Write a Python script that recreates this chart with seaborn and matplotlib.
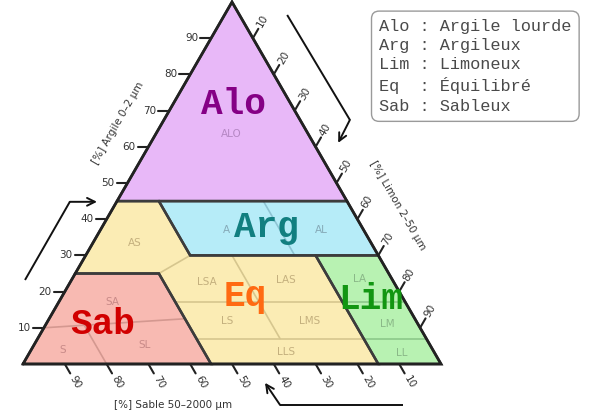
import numpy as np
import pandas as pd
import matplotlib.pyplot as plt
import seaborn as sns

# class polygons, as (sand %, clay %) pairs ; silt = 100 - sand - clay
alo_poly = [(55, 45), (0, 45), (0, 100)]
arg_poly = [(45, 45), (0, 45), (0, 30), (45, 30)]
eq_poly = [(55, 45), (45, 45), (45, 30), (15, 30), (15, 0), (55, 0), (55, 25), (75, 25)]
lim_poly = [(15, 30), (0, 30), (0, 0), (15, 0)]
sab_poly = [(75, 25), (55, 25), (55, 0), (100, 0)]

# thin sub-class boundaries
arg_lines = [[(20, 45), (20, 30)]]
eq_lines = [[(45, 30), (55, 25)], [(55, 17), (15, 17)], [(55, 7), (15, 7)], [(35, 30), (35, 7)]]
lim_lines = [[(15, 17), (0, 17)], [(15, 7), (0, 7)]]
sab_lines = [[(90, 10), (55, 12.5)], [(80, 10.7), (80, 0)]]

# labels (name, sand, clay)
class_names = ['Alo', 'Arg', 'Eq', 'Lim', 'Sab']
class_pos = [(13.7, 71.7), (23, 37.7), (37.5, 18.6), (7.9, 17.8), (75.5, 10.8)]
sub_labels = ['ALO', 'A', 'AL', 'AS', 'LSA', 'LAS', 'LS', 'LMS', 'LLS', 'LA', 'LM', 'LL', 'SA', 'S', 'SL']
sub_pos = [(18.4, 63.4), (32.7, 37.1), (10, 37.1), (56.5, 33.5), (44.7, 22.7), (25.4, 23.3),
           (45.3, 11.9), (25.5, 11.9), (35.3, 3.3), (7.8, 23.5), (7.3, 11.0), (7.8, 3.0),
           (69.9, 17.2), (88.5, 3.9), (68.2, 5.3)]

ticks = [10, 20, 30, 40, 50, 60, 70, 80, 90]
legend_lines = ['Alo : Argile lourde', 'Arg : Argileux', 'Lim : Limoneux', 'Eq  : Équilibré', 'Sab : Sableux']

fills = {'Alo': '#e8b8f8', 'Arg': '#b6ecf8', 'Eq': '#fbecb4', 'Lim': '#b8f2b2', 'Sab': '#f8bab2'}
big_colors = {'Alo': '#850085', 'Arg': '#117f80', 'Eq': '#ff6a12', 'Lim': '#129612', 'Sab': '#d10000'}
thin_colors = {'Arg': '#8ec4d4', 'Eq': '#d6c68e', 'Lim': '#8cc88a', 'Sab': '#d49890'}
sub_colors = {'ALO': '#b588c4', 'A': '#86aab8', 'AL': '#86aab8', 'LA': '#8ab888', 'LM': '#8ab888',
              'LL': '#8ab888', 'SA': '#c88a88', 'S': '#c88a88', 'SL': '#c88a88'}

H = np.sqrt(3) / 2


def cart(sand, clay):
    return 100 - sand - clay / 2, clay * H


def to_xy(pts):
    df = pd.DataFrame(pts, columns=['sand', 'clay'])
    x, y = cart(df['sand'], df['clay'])
    return x.values, y.values


sns.set_theme(style='white')
fig = plt.figure(figsize=(5.89, 4.18), dpi=100)
ax = fig.add_axes([0, 0, 1, 1])
s = 4.18
ax.set_xlim(-23 / s, (589 - 23) / s)
ax.set_ylim(-(418 - 364) / s, 364 / s)
ax.axis('off')

polys = {'Alo': alo_poly, 'Arg': arg_poly, 'Eq': eq_poly, 'Lim': lim_poly, 'Sab': sab_poly}
for name, pts in polys.items():
    x, y = to_xy(pts)
    ax.fill(x, y, color=fills[name], lw=0, zorder=1)

for name, lines in [('Arg', arg_lines), ('Eq', eq_lines), ('Lim', lim_lines), ('Sab', sab_lines)]:
    for seg in lines:
        x, y = to_xy(seg)
        ax.plot(x, y, color=thin_colors[name], lw=1.2, zorder=2)

for name, pts in polys.items():
    x, y = to_xy(pts + [pts[0]])
    ax.plot(x, y, color='#3c3c3c', lw=1.8, zorder=3, solid_joinstyle='miter')

x, y = to_xy([(100, 0), (0, 0), (0, 100), (100, 0)])
ax.plot(x, y, color='#222222', lw=2.0, zorder=4, solid_joinstyle='miter')

for name, (sa, cl) in zip(sub_labels, sub_pos):
    x, y = cart(sa, cl)
    ax.text(x, y, name, color=sub_colors.get(name, '#c4b07e'), fontsize=7.5,
            ha='center', va='center', zorder=5)

for name, (sa, cl) in zip(class_names, class_pos):
    x, y = cart(sa, cl)
    ax.text(x, y, name, color=big_colors[name], fontsize=26, family='Liberation Mono',
            fontweight='bold', ha='center', va='center', zorder=6)

tl = 2.6
for t in ticks:
    # clay ticks on left side
    x, y = cart(100 - t, t)
    ax.plot([x, x - tl], [y, y], color='#222222', lw=1.5)
    ax.text(x - tl - 0.5, y, str(t), fontsize=7.5, ha='right', va='center', color='#333333')
    # silt ticks on right side
    x, y = cart(0, 100 - t)
    ax.plot([x, x + tl * 0.5], [y, y + tl * H], color='#222222', lw=1.5)
    ax.text(x + 4.7 * 0.5, y + 4.7 * H, str(t), fontsize=7.5, rotation=60,
            ha='center', va='center', color='#333333')
    # sand ticks on bottom
    x, y = cart(t, 0)
    ax.plot([x, x + tl * 0.5], [y, y - tl * H], color='#222222', lw=1.5)
    ax.text(x + 5.1 * 0.5, y - 5.1 * H, str(t), fontsize=7.5, rotation=-60,
            ha='center', va='center', color='#333333')

ax.text(22.7, 57.7, '[%] Argile 0–2 µm', rotation=60, fontsize=7.5, ha='center', va='center', color='#333333')
ax.text(89.7, 38.0, '[%] Limon 2–50 µm', rotation=-60, fontsize=7.5, ha='center', va='center', color='#333333')
ax.text(35.9, -9.8, '[%] Sable 50–2000 µm', fontsize=7.5, ha='center', va='center', color='#333333')

arrows = [[(0.48, 20.1), (11.2, 38.8), (17.7, 38.8)],
          [(63.2, 83.5), (78.2, 58.4), (75.4, 52.9)],
          [(90.9, -9.8), (61.5, -9.8), (57.9, -4.5)]]
for path in arrows:
    xs = [p[0] for p in path]
    ys = [p[1] for p in path]
    ax.plot(xs[:2], ys[:2], color='#111111', lw=1.4, solid_capstyle='butt')
    ax.annotate('', xy=path[2], xytext=path[1],
                arrowprops=dict(arrowstyle='->', color='#111111', lw=1.4, mutation_scale=14,
                                shrinkA=0, shrinkB=0))

ax.text(85.2, 82.6, '\n'.join(legend_lines), family='Liberation Mono', fontsize=12.2,
        color='#4a4a4a', ha='left', va='top', linespacing=1.36,
        bbox=dict(boxstyle='round,pad=0.45', fc='white', ec='#9a9a9a', lw=1))

fig.savefig('out.png', dpi=100)
